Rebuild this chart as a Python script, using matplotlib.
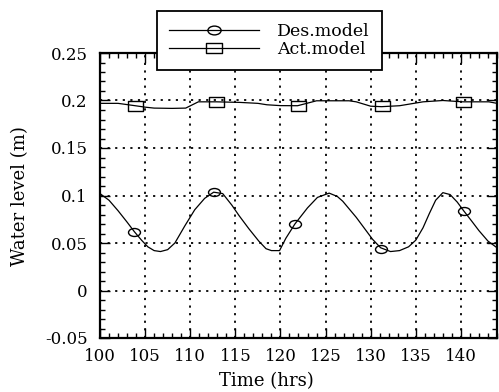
import matplotlib
matplotlib.use('Agg')
import matplotlib.pyplot as plt
from matplotlib.ticker import MultipleLocator, FuncFormatter
from matplotlib.lines import Line2D
from matplotlib.path import Path
import matplotlib.transforms as mtransforms

plt.rcParams['font.family'] = ['DejaVu Serif', 'Liberation Serif']

# ---- data ----
des_t = [100.0, 101.0, 102.0, 103.0, 103.8, 104.6, 105.3, 106.0, 106.7, 107.5,
         108.3, 109.4, 110.5, 111.6, 112.6, 113.6, 114.6, 115.4, 116.5, 117.6,
         118.4, 119.0, 119.9, 120.6, 121.6, 123.0, 124.1, 125.4, 126.3, 126.9,
         128.4, 130.2, 131.1, 132.2, 133.2, 134.2, 135.0, 135.8, 136.5, 137.2,
         138.0, 138.8, 139.6, 140.3, 141.2, 142.0, 143.0, 144.0]
des_v = [0.102, 0.095, 0.084, 0.072, 0.062, 0.053, 0.046, 0.042, 0.041, 0.043,
         0.050, 0.068, 0.085, 0.097, 0.1035, 0.102, 0.090, 0.079, 0.065, 0.052,
         0.044, 0.042, 0.042, 0.055, 0.070, 0.087, 0.098, 0.1025, 0.099, 0.094,
         0.077, 0.054, 0.045, 0.041, 0.042, 0.046, 0.053, 0.066, 0.081, 0.095,
         0.103, 0.101, 0.093, 0.084, 0.073, 0.063, 0.052, 0.045]

act_t = [100.0, 102.0, 103.9, 105.0, 106.0, 108.0, 109.5, 110.9, 112.9, 115.5,
         117.5, 118.5, 120.0, 121.9, 124.0, 127.6, 128.4, 130.0, 131.2, 133.2,
         135.8, 138.0, 140.2, 143.1, 144.0]
act_v = [0.197, 0.197, 0.1945, 0.193, 0.192, 0.1917, 0.192, 0.1986, 0.1986, 0.198,
         0.197, 0.1955, 0.1946, 0.1945, 0.1997, 0.1997, 0.1986, 0.194, 0.1935, 0.1945,
         0.1986, 0.200, 0.1986, 0.1986, 0.197]

des_mark_t = [103.8, 112.6, 121.6, 131.1, 140.3]
des_mark_v = [0.062, 0.1035, 0.070, 0.044, 0.084]
act_mark_t = [103.9, 112.9, 121.9, 131.2, 140.2]
act_mark_v = [0.1945, 0.1986, 0.1945, 0.1945, 0.1986]

labels = ['Des.model', 'Act.model']
x_label = 'Time (hrs)'
y_label = 'Water level (m)'

# ---- markers (wide ellipse and wide rectangle) ----
ellipse = Path.unit_circle().transformed(mtransforms.Affine2D().scale(1.5, 1.0))
rect = Path([(-1.5, -1), (1.5, -1), (1.5, 1), (-1.5, 1), (-1.5, -1)], closed=True)

fig = plt.figure(figsize=(4.99, 3.92), dpi=100)
ax = fig.add_axes([100 / 499, 1 - 338 / 392, 397 / 499, 285 / 392])

ax.plot(des_t, des_v, color='black', lw=0.9, zorder=3)
ax.plot(act_t, act_v, color='black', lw=0.9, zorder=3)
ax.plot(des_mark_t, des_mark_v, ls='none', marker=ellipse, ms=8.6,
        mfc='none', mec='black', mew=1.0, zorder=4)
ax.plot(act_mark_t, act_mark_v, ls='none', marker=rect, ms=10.8,
        mfc='none', mec='black', mew=1.0, zorder=4)

ax.set_xlim(100, 144)
ax.set_ylim(-0.05, 0.25)
ax.xaxis.set_major_locator(MultipleLocator(5))
ax.xaxis.set_minor_locator(MultipleLocator(1))
ax.yaxis.set_major_locator(MultipleLocator(0.05))
ax.yaxis.set_minor_locator(MultipleLocator(0.01))
ax.yaxis.set_major_formatter(FuncFormatter(lambda v, p: f"{round(v, 4):g}"))
ax.xaxis.set_major_formatter(FuncFormatter(lambda v, p: f"{v:g}"))

ax.tick_params(which='both', direction='in', top=True, right=True, width=1.0, color='black')
ax.tick_params(which='major', length=7)
ax.tick_params(which='minor', length=3.6)
ax.tick_params(axis='x', pad=7, labelsize=12)
ax.tick_params(axis='y', pad=9, labelsize=12)
for s in ax.spines.values():
    s.set_linewidth(1.6)

ax.grid(True, which='major', color='black', lw=1.3, linestyle=(0, (1.2, 3)))

fig.text(266 / 499, 2 / 392, x_label, ha='center', va='bottom', fontsize=13)
fig.text(20 / 499, 1 - 196 / 392, y_label, ha='center', va='center', rotation=90, fontsize=13)

handles = [
    Line2D([], [], color='black', lw=0.9, marker=ellipse, ms=9.5, mfc='none', mec='black', mew=1.0),
    Line2D([], [], color='black', lw=0.9, marker=rect, ms=11.5, mfc='none', mec='black', mew=1.0),
]
leg = fig.legend(handles, labels, loc='upper left',
                 bbox_to_anchor=(157 / 499, 1 - 10.7 / 392), bbox_transform=fig.transFigure,
                 frameon=True, fancybox=False, edgecolor='black', framealpha=1,
                 fontsize=12.5, handlelength=5.2, handletextpad=1.0, borderpad=0.7,
                 labelspacing=0.05, borderaxespad=0)
leg.get_frame().set_linewidth(1.3)

fig.savefig('out.png', dpi=100)
